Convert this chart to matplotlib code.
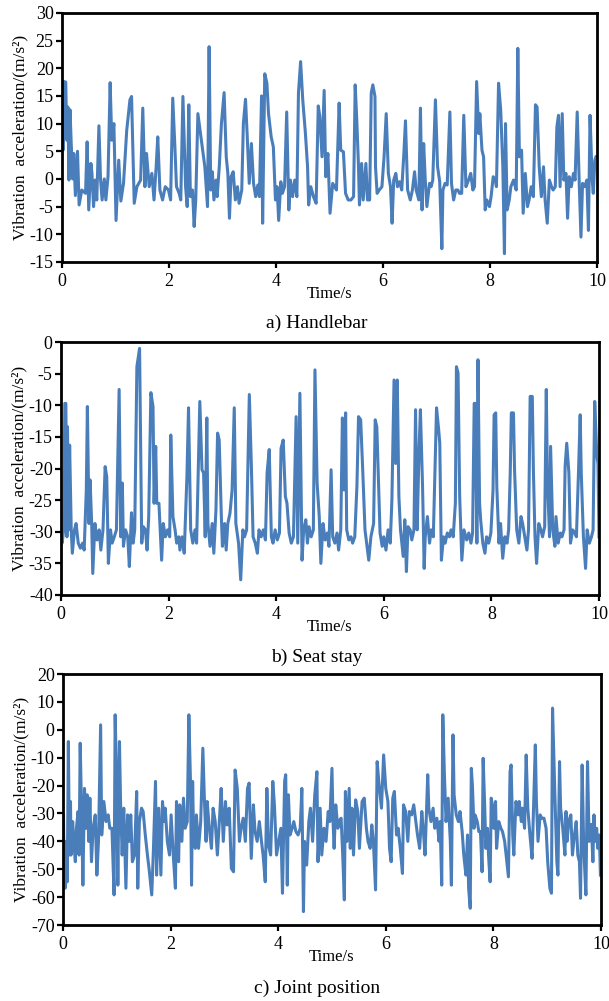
import matplotlib.pyplot as plt

plt.rcParams['font.family'] = ['Liberation Serif', 'DejaVu Serif']
plt.rcParams['axes.unicode_minus'] = False

# a) handlebar
t_handle = [0.01, 0.02, 0.04, 0.07, 0.09, 0.11, 0.13, 0.15, 0.17, 0.20, 0.22, 0.25, 0.29, 0.32, 0.37, 0.44,
            0.47, 0.50, 0.54, 0.56, 0.59, 0.62, 0.65, 0.69, 0.72, 0.75, 0.79, 0.82, 0.86, 0.90, 0.93, 0.97,
            1.01, 1.06, 1.10, 1.15, 1.21, 1.27, 1.30, 1.35, 1.40, 1.47, 1.51, 1.55, 1.58, 1.63, 1.68, 1.72,
            1.76, 1.79, 1.83, 1.88, 1.93, 1.99, 2.03, 2.07, 2.11, 2.14, 2.19, 2.22, 2.26, 2.31, 2.34, 2.37,
            2.40, 2.44, 2.47, 2.50, 2.54, 2.67, 2.72, 2.75, 2.78, 2.81, 2.84, 2.88, 2.90, 2.94, 2.98, 3.03,
            3.07, 3.10, 3.13, 3.16, 3.20, 3.24, 3.28, 3.31, 3.36, 3.39, 3.43, 3.46, 3.50, 3.54, 3.58, 3.62,
            3.66, 3.69, 3.73, 3.75, 3.79, 3.83, 3.86, 3.91, 3.95, 3.99, 4.02, 4.05, 4.09, 4.12, 4.16, 4.20,
            4.24, 4.27, 4.31, 4.35, 4.39, 4.42, 4.46, 4.50, 4.55, 4.59, 4.61, 4.65, 4.70, 4.75, 4.79, 4.82,
            4.86, 4.90, 4.93, 4.97, 5.01, 5.06, 5.13, 5.18, 5.21, 5.26, 5.30, 5.35, 5.40, 5.45, 5.48, 5.51,
            5.54, 5.56, 5.60, 5.63, 5.68, 5.71, 5.75, 5.78, 5.81, 5.85, 5.86, 5.89, 5.93, 5.98, 6.02, 6.06,
            6.10, 6.14, 6.17, 6.20, 6.24, 6.27, 6.31, 6.35, 6.39, 6.42, 6.46, 6.51, 6.55, 6.59, 6.62, 6.67,
            6.70, 6.73, 6.76, 6.79, 6.82, 6.87, 6.90, 6.93, 6.98, 7.02, 7.06, 7.10, 7.12, 7.16, 7.20, 7.25,
            7.28, 7.32, 7.36, 7.40, 7.43, 7.47, 7.51, 7.55, 7.60, 7.64, 7.68, 7.71, 7.75, 7.79, 7.81, 7.85,
            7.88, 7.91, 7.94, 7.99, 8.02, 8.06, 8.10, 8.12, 8.16, 8.20, 8.24, 8.27, 8.29, 8.32, 8.36, 8.39,
            8.44, 8.49, 8.52, 8.55, 8.59, 8.62, 8.66, 8.70, 8.73, 8.77, 8.81, 8.85, 8.88, 8.92, 8.96, 9.00,
            9.03, 9.07, 9.11, 9.15, 9.18, 9.22, 9.25, 9.28, 9.31, 9.35, 9.38, 9.42, 9.45, 9.48, 9.52, 9.56,
            9.59, 9.63, 9.67, 9.70, 9.73, 9.77, 9.81, 9.84, 9.87, 9.91, 9.93, 9.96, 9.98]
a_handle = [12.5, 5.2, 17.6, 17.5, 7, 13, -0.2, 12.5, 7, 0, 4.6, -3, 5, -4.7, -2, -2.6,
            6.7, -5.6, 2.8, 1, -5, -0.2, -3.8, 9.6, 0, -3.8, 0, -3.8, 0.4, 17.4, 7, 10,
            -7.5, 3.4, -4, -0.8, 8.8, 14.3, 14.9, -4.4, -1.4, -0.2, 12.8, -1.4, 4.6, -1.4, 1, -3.8,
            2.2, 7.6, -2, -3.8, -1.4, -2, -3.8, 14.6, 5.8, -1.4, -2.6, -3.8, 14.9, -1.4, -5, 13.4,
            -3.2, -2, -8.6, -3.8, 11.8, 2.2, -5, 23.9, -2, 1.3, -3.8, -0.2, -3.2, 2.2, 10, 15.6,
            4, 1, -7.1, 0.4, 1.3, -3.8, -1.4, -4.4, -2, 10, 14.4, 8.2, -0.8, 6.4, -0.8, -3.2,
            -1.1, -3.2, 15, -8, 19, 17.3, 11.8, 7.6, 5.8, -3.8, -1.4, -7.5, -0.5, -2.6, -1.4, 12.1,
            -5.6, -0.2, -3.2, -0.2, -3.2, 15.6, 21.2, 14.3, 8.2, 2.2, -4.7, -1.4, -3.2, -4.4, 13.2, 11.2,
            4, 16, 0.4, 4.6, -6.2, -0.8, -2, 13.7, 5.2, 4.9, -2.6, -3.8, -3.8, -3.2, 17, 10.6,
            2.8, -4.7, 2.8, -3.8, 2.8, -3.8, -3.8, 15.5, 17, 14.9, 2.2, -2.6, -2, -1.4, 4, 11.8,
            1, -1.4, -8, -0.2, 1, -1.4, -0.5, -2, 4.6, 10.5, -2, -3.8, -2, 1.3, -2, -3.8,
            12.8, -5.6, 6.4, -0.2, -5, -0.8, -1.4, -0.2, 14.3, 2.2, -0.5, -12.6, -2, -0.8, -1.1, 12.1,
            -0.8, -3.8, -2, -2, -2.6, -2.6, 11.5, -1.4, -0.2, 1, -2, -1.4, 17.6, 8.2, 11.8, 5.2,
            4, -5.6, -3.8, -5, -3.2, 0.4, -0.2, -1.4, 17.3, 12.5, 2.2, -13.5, 10, -5.6, -3.8, -1.4,
            -0.2, -2, 23.6, 4, 5.2, -6.2, 1, -5, -3.8, -1.4, -3.2, 13.4, 13, 2.2, -3.2, 2.2,
            -3.8, -8, -0.2, -1.4, -2, -1.4, 9.4, 11.5, -1.4, 11.8, -0.2, 1, -7.1, 0.4, -1.4, 1,
            -0.2, 12.1, -1.4, -10.5, -0.8, -1.4, -0.2, -9.3, 11.5, -0.2, -2.6, 3.4, 4]

# b) seat stay
t_seat = [0.01, 0.02, 0.05, 0.07, 0.09, 0.11, 0.12, 0.14, 0.16, 0.19, 0.21, 0.25, 0.28, 0.32, 0.36, 0.40,
          0.43, 0.47, 0.49, 0.52, 0.54, 0.57, 0.59, 0.63, 0.67, 0.71, 0.74, 0.78, 0.82, 0.85, 0.88, 0.92,
          0.95, 0.99, 1.03, 1.08, 1.11, 1.14, 1.16, 1.20, 1.24, 1.27, 1.31, 1.34, 1.37, 1.41, 1.46, 1.50,
          1.53, 1.57, 1.60, 1.63, 1.67, 1.71, 1.73, 1.76, 1.78, 1.82, 1.87, 1.90, 1.94, 1.98, 2.02, 2.04,
          2.08, 2.12, 2.15, 2.19, 2.21, 2.25, 2.29, 2.34, 2.37, 2.41, 2.45, 2.49, 2.52, 2.58, 2.62, 2.65,
          2.68, 2.71, 2.73, 2.77, 2.81, 2.84, 2.88, 2.91, 2.94, 2.98, 3.00, 3.04, 3.07, 3.10, 3.14, 3.18,
          3.22, 3.25, 3.30, 3.34, 3.38, 3.41, 3.45, 3.50, 3.54, 3.57, 3.61, 3.65, 3.68, 3.72, 3.76, 3.80,
          3.83, 3.87, 3.91, 3.94, 3.98, 4.02, 4.06, 4.09, 4.13, 4.17, 4.20, 4.24, 4.28, 4.32, 4.37, 4.40,
          4.44, 4.48, 4.51, 4.55, 4.58, 4.61, 4.65, 4.69, 4.72, 4.76, 4.80, 4.83, 4.87, 4.91, 4.95, 4.98,
          5.02, 5.05, 5.09, 5.13, 5.16, 5.20, 5.23, 5.26, 5.29, 5.31, 5.35, 5.39, 5.42, 5.46, 5.50, 5.53,
          5.57, 5.61, 5.65, 5.68, 5.72, 5.76, 5.81, 5.84, 5.87, 5.91, 5.93, 5.97, 6.00, 6.04, 6.08, 6.12,
          6.15, 6.19, 6.22, 6.25, 6.28, 6.31, 6.36, 6.39, 6.42, 6.45, 6.49, 6.52, 6.56, 6.59, 6.62, 6.65,
          6.68, 6.72, 6.75, 6.77, 6.81, 6.85, 6.88, 6.92, 6.98, 7.02, 7.04, 7.07, 7.11, 7.14, 7.18, 7.22,
          7.25, 7.29, 7.33, 7.35, 7.38, 7.41, 7.45, 7.49, 7.54, 7.58, 7.62, 7.65, 7.68, 7.70, 7.73, 7.75,
          7.78, 7.80, 7.84, 7.88, 7.91, 7.95, 7.99, 8.03, 8.05, 8.08, 8.10, 8.14, 8.17, 8.21, 8.25, 8.29,
          8.32, 8.35, 8.37, 8.41, 8.43, 8.47, 8.51, 8.55, 8.58, 8.62, 8.66, 8.69, 8.72, 8.76, 8.78, 8.81,
          8.84, 8.88, 8.92, 8.95, 8.99, 9.02, 9.04, 9.08, 9.10, 9.14, 9.18, 9.20, 9.24, 9.28, 9.31, 9.35,
          9.37, 9.40, 9.44, 9.47, 9.51, 9.55, 9.58, 9.62, 9.65, 9.67, 9.71, 9.75, 9.78, 9.82, 9.86, 9.89,
          9.92, 9.96, 9.98, 10.0]
a_seat = [-29.7, -31.8, -29.7, -9.7, -9.7, -30.8, -13.4, -29.7, -16.3, -29.7, -33.4, -29.7, -28.7, -31.8, -32.6, -31.8,
          -32.9, -23.4, -10.2, -28.7, -21.8, -28.7, -36.6, -28.7, -31.3, -29.7, -32.9, -29.7, -19.7, -21.3, -35, -29.7,
          -31.8, -30.8, -29.7, -7.5, -30.8, -22.3, -32.3, -29.7, -30.8, -35.5, -27, -31.8, -29.7, -3.9, -1, -31.8,
          -29.2, -29.7, -32.9, -27.6, -8, -10.2, -25.5, -16.5, -25.5, -25.5, -34.5, -28.7, -30.8, -29.7, -30.8, -14.7,
          -27.6, -29.7, -31.8, -30.8, -32.9, -30.8, -33.4, -21.3, -10.4, -29.7, -31.8, -29.7, -31.8, -9.4, -20.2, -20.7,
          -30.8, -12, -28.7, -32.3, -28.7, -33.4, -26.5, -14.4, -15.5, -27.6, -32.3, -28.7, -32.9, -28.7, -27.1, -23.4,
          -10.4, -28.7, -31.8, -37.6, -29.7, -30.8, -29.7, -8.3, -20.2, -30.8, -31.8, -33.4, -29.7, -30.8, -29.7, -31.3,
          -20.7, -17, -30.8, -31.8, -29.7, -31.3, -30.2, -16.8, -15.5, -24.4, -25.5, -30.2, -31.8, -30.8, -11.8, -31.8,
          -8.1, -34.5, -29.7, -28.1, -31.8, -29.2, -30.8, -29.7, -4.4, -22.3, -27.6, -35, -28.7, -31.3, -30.2, -32.3,
          -20.2, -30.8, -31.8, -30.2, -32.9, -29.7, -12, -23.4, -11.2, -29.7, -31.3, -30.8, -31.8, -30.8, -22.8, -11.8,
          -12.3, -20.7, -29.7, -31.8, -34.5, -30.8, -28.7, -12.3, -13.4, -24.4, -30.2, -32.3, -30.8, -32.9, -29.7, -31.8,
          -25, -6, -19.2, -6, -24.4, -29.7, -33.9, -28.1, -36.3, -29.2, -29.7, -31.3, -29.7, -10.7, -29.7, -18.6,
          -10.7, -22.8, -35.8, -30.8, -27.6, -31.8, -29.7, -30.8, -10.4, -13.9, -16, -34.5, -30.8, -31.8, -30.2, -30.8,
          -29.7, -30.8, -25.5, -3.9, -4.9, -24.4, -34.5, -29.7, -31.3, -30.2, -31.8, -30.2, -9.7, -9.7, -31.8, -2.8,
          -25.5, -28.1, -31.8, -33.4, -30.8, -31.8, -30.2, -23.4, -11.5, -11.2, -22.8, -31.8, -28.7, -34.2, -30.8, -31.8,
          -29.7, -20.7, -11.2, -11.2, -20.2, -29.7, -31.8, -27.6, -28.7, -30.8, -32.9, -29.7, -8.6, -8.6, -20.2, -30.8,
          -35, -28.7, -29.7, -30.8, -29.2, -7.5, -21.3, -30.8, -16.5, -29.7, -32.3, -27.6, -31.8, -30.2, -30.8, -29.7,
          -19.7, -16, -20.7, -31.8, -29.7, -30.2, -30.8, -20.2, -11.5, -20.7, -30.8, -35.8, -29.7, -31.8, -30.8, -29.7,
          -9.4, -18, -19.2, -30.8]

# c) joint position
t_joint = [0.01, 0.02, 0.04, 0.06, 0.08, 0.10, 0.12, 0.14, 0.15, 0.18, 0.20, 0.23, 0.25, 0.28, 0.30, 0.32,
           0.35, 0.37, 0.40, 0.43, 0.45, 0.48, 0.50, 0.53, 0.56, 0.60, 0.63, 0.66, 0.70, 0.72, 0.76, 0.80,
           0.84, 0.87, 0.91, 0.95, 0.97, 1.00, 1.02, 1.05, 1.07, 1.10, 1.13, 1.17, 1.20, 1.23, 1.26, 1.29,
           1.33, 1.37, 1.39, 1.42, 1.46, 1.49, 1.53, 1.57, 1.60, 1.65, 1.68, 1.72, 1.74, 1.78, 1.82, 1.85,
           1.88, 1.90, 1.94, 1.98, 2.01, 2.05, 2.09, 2.11, 2.15, 2.17, 2.21, 2.24, 2.27, 2.31, 2.34, 2.37,
           2.39, 2.41, 2.43, 2.46, 2.48, 2.52, 2.56, 2.60, 2.63, 2.66, 2.68, 2.72, 2.76, 2.79, 2.83, 2.87,
           2.91, 2.94, 2.98, 3.02, 3.05, 3.09, 3.13, 3.17, 3.20, 3.24, 3.28, 3.31, 3.35, 3.39, 3.43, 3.46,
           3.50, 3.54, 3.57, 3.61, 3.65, 3.69, 3.72, 3.76, 3.79, 3.82, 3.86, 3.90, 3.93, 3.97, 4.01, 4.05,
           4.08, 4.12, 4.14, 4.17, 4.19, 4.22, 4.26, 4.29, 4.33, 4.37, 4.41, 4.44, 4.47, 4.49, 4.53, 4.57,
           4.60, 4.64, 4.68, 4.72, 4.74, 4.78, 4.81, 4.85, 4.89, 4.93, 4.96, 5.00, 5.02, 5.04, 5.07, 5.11,
           5.13, 5.17, 5.20, 5.23, 5.25, 5.28, 5.32, 5.34, 5.37, 5.40, 5.44, 5.48, 5.51, 5.56, 5.60, 5.64,
           5.67, 5.71, 5.74, 5.77, 5.81, 5.84, 5.87, 5.92, 5.96, 6.00, 6.04, 6.07, 6.10, 6.13, 6.16, 6.20,
           6.23, 6.27, 6.31, 6.33, 6.37, 6.41, 6.44, 6.48, 6.52, 6.56, 6.59, 6.63, 6.67, 6.70, 6.73, 6.75,
           6.78, 6.80, 6.84, 6.88, 6.91, 6.95, 6.99, 7.01, 7.04, 7.06, 7.09, 7.12, 7.16, 7.20, 7.22, 7.25,
           7.27, 7.31, 7.35, 7.38, 7.42, 7.45, 7.49, 7.52, 7.54, 7.57, 7.59, 7.61, 7.64, 7.66, 7.70, 7.73,
           7.76, 7.79, 7.81, 7.84, 7.86, 7.89, 7.91, 7.94, 7.96, 7.99, 8.01, 8.04, 8.06, 8.10, 8.14, 8.17,
           8.21, 8.25, 8.28, 8.31, 8.33, 8.36, 8.38, 8.42, 8.46, 8.48, 8.52, 8.54, 8.58, 8.61, 8.64, 8.68,
           8.72, 8.74, 8.78, 8.80, 8.83, 8.87, 8.90, 8.94, 8.98, 9.01, 9.05, 9.08, 9.10, 9.14, 9.18, 9.20,
           9.23, 9.25, 9.29, 9.33, 9.35, 9.37, 9.40, 9.44, 9.47, 9.50, 9.54, 9.57, 9.60, 9.62, 9.65, 9.68,
           9.72, 9.75, 9.78, 9.82, 9.85, 9.87, 9.89, 9.92, 9.94, 9.97, 9.99]
a_joint = [-30.5, -49.7, -56.8, -40, -54.5, -4.2, -44.9, -25.7, -44.9, -32.9, -40, -47.3, -35.3, -29.3, -44.9, -4.8,
           -32.9, -55.7, -21, -35.3, -23.3, -40, -24.5, -47.3, -35.3, -30.5, -52.1, -40, 1.8, -37.7, -25.7, -32.9,
           -30.5, -35.3, -35.3, -59.2, 5.4, -21, -55.7, -4.2, -25.7, -44.9, -28.1, -56.8, -30.5, -40, -30.5, -47.3,
           -44.9, -22.1, -56.8, -32.9, -28.1, -29.3, -37.7, -44.9, -49.7, -59.2, -43.7, -18.5, -52.1, -28.1, -52.1, -25.7,
           -32.9, -28.1, -40, -44.9, -30.5, -44.9, -56.8, -25.7, -47.3, -26.9, -40, -24.5, -35.3, -32.9, 5.4, -18.5,
           -55.7, -18.5, -40, -42.5, -30.5, -42.5, -32.9, -6.6, -25.7, -40, -25.7, -35.3, -42.5, -28.1, -32.9, -44.9,
           -31.7, -21, -40, -25.7, -34.1, -28.1, -49.7, -50.9, -14.4, -21, -40, -35.3, -31.7, -40, -21, -19.1,
           -46.1, -26.9, -36.5, -40, -32.9, -40, -44.9, -54.5, -21, -41.3, -44.9, -18.5, -26.9, -44.9, -40, -35.3,
           -58.6, -18.5, -16.1, -55.7, -23.3, -37.7, -35.3, -32.9, -36.5, -37.7, -35.3, -21, -65.2, -40, -48.5, -32.9,
           -28.1, -40, -23.3, -15, -47.3, -28.1, -44.9, -35.3, -40, -29.3, -32.9, -13.8, -32.9, -42.5, -26.9, -35.3,
           -32.9, -31.7, -44.9, -61, -22.1, -40, -21, -42.5, -28.1, -44.9, -25.1, -29.3, -42.5, -25.7, -24.5, -35.3,
           -40, -42.5, -34.1, -40, -57.4, -11.4, -18.5, -28.1, -9, -21, -25.7, -42.5, -47.3, -24.5, -22.1, -37.7,
           -35.3, -42.5, -51.5, -26.9, -29.3, -40, -29.3, -30.5, -26.9, -32.9, -37.7, -42.5, -29.3, -36.5, -44.9, -32.9,
           -16.1, -28.1, -32.9, -28.1, -35.3, -31.7, -40, -32.9, -55.7, 5.4, -16.1, -32.9, -24.5, -40, -55.7, -1.8,
           -23.3, -30.5, -32.9, -29.3, -36.5, -44.9, -52.1, -37.7, -56.8, -64, -13.8, -19.7, -35.3, -30.5, -32.9, -36.5,
           -36.5, -50.9, -10.2, -28.1, -42.5, -35.3, -44.9, -54.5, -24.5, -28.1, -35.3, -25.7, -42.5, -32.9, -35.3, -36.5,
           -40, -47.3, -52.7, -15, -12.6, -37.7, -44.9, -25.7, -30.5, -25.7, -32.9, -28.1, -35.3, -9, -28.1, -37.7,
           -46.1, -32.9, -5.4, -25.7, -40, -30.5, -31.7, -31.7, -35.3, -47.3, -56.8, -58.6, 7.8, -21, -47.3, -52.1,
           -11.4, -28.1, -35.3, -44.9, -29.3, -40, -32.9, -30.5, -44.9, -38.9, -32.9, -44.9, -47.3, -60.4, -12.6, -42.5,
           -59.2, -11.4, -40, -33.9, -47.3, -30.5, -40, -35.3, -42.5, -37.7, -52.1]

panels = [
    (t_handle, a_handle, (-15, 30), 5, 'a) Handlebar', [0.1018, 0.7383, 0.8785, 0.2488], 0.677),
    (t_seat, a_seat, (-40, 0), 5, 'b) Seat stay', [0.1002, 0.4056, 0.8834, 0.2527], 0.343),
    (t_joint, a_joint, (-70, 20), 10, 'c) Joint position', [0.1034, 0.0759, 0.8834, 0.2507], 0.013),
]

fig = plt.figure(figsize=(6.09, 10.01), dpi=100)

for t, a, ylim, ystep, caption, rect, cap_y in panels:
    ax = fig.add_axes(rect)
    ax.plot(t, a, color='#4A7EBB', lw=2.2, solid_joinstyle='round')
    ax.set_xlim(0, 10)
    ax.set_ylim(*ylim)
    ax.set_xticks(range(0, 11, 2))
    ax.set_yticks(range(ylim[0], ylim[1] + 1, ystep))
    for s in ax.spines.values():
        s.set_linewidth(2.0)
    ax.tick_params(direction='out', length=4, width=1.6, labelsize=13)
    ax.tick_params(axis='x', pad=4)
    ax.tick_params(axis='y', pad=2)
    ax.set_xlabel('Time/s', fontsize=12, labelpad=-3)
    ax.set_ylabel('Vibration  acceleration/(m/s²)', fontsize=12.5, labelpad=1)
    fig.text(0.52, cap_y, caption, ha='center', va='center', fontsize=14)

fig.savefig('out.png', dpi=100)
